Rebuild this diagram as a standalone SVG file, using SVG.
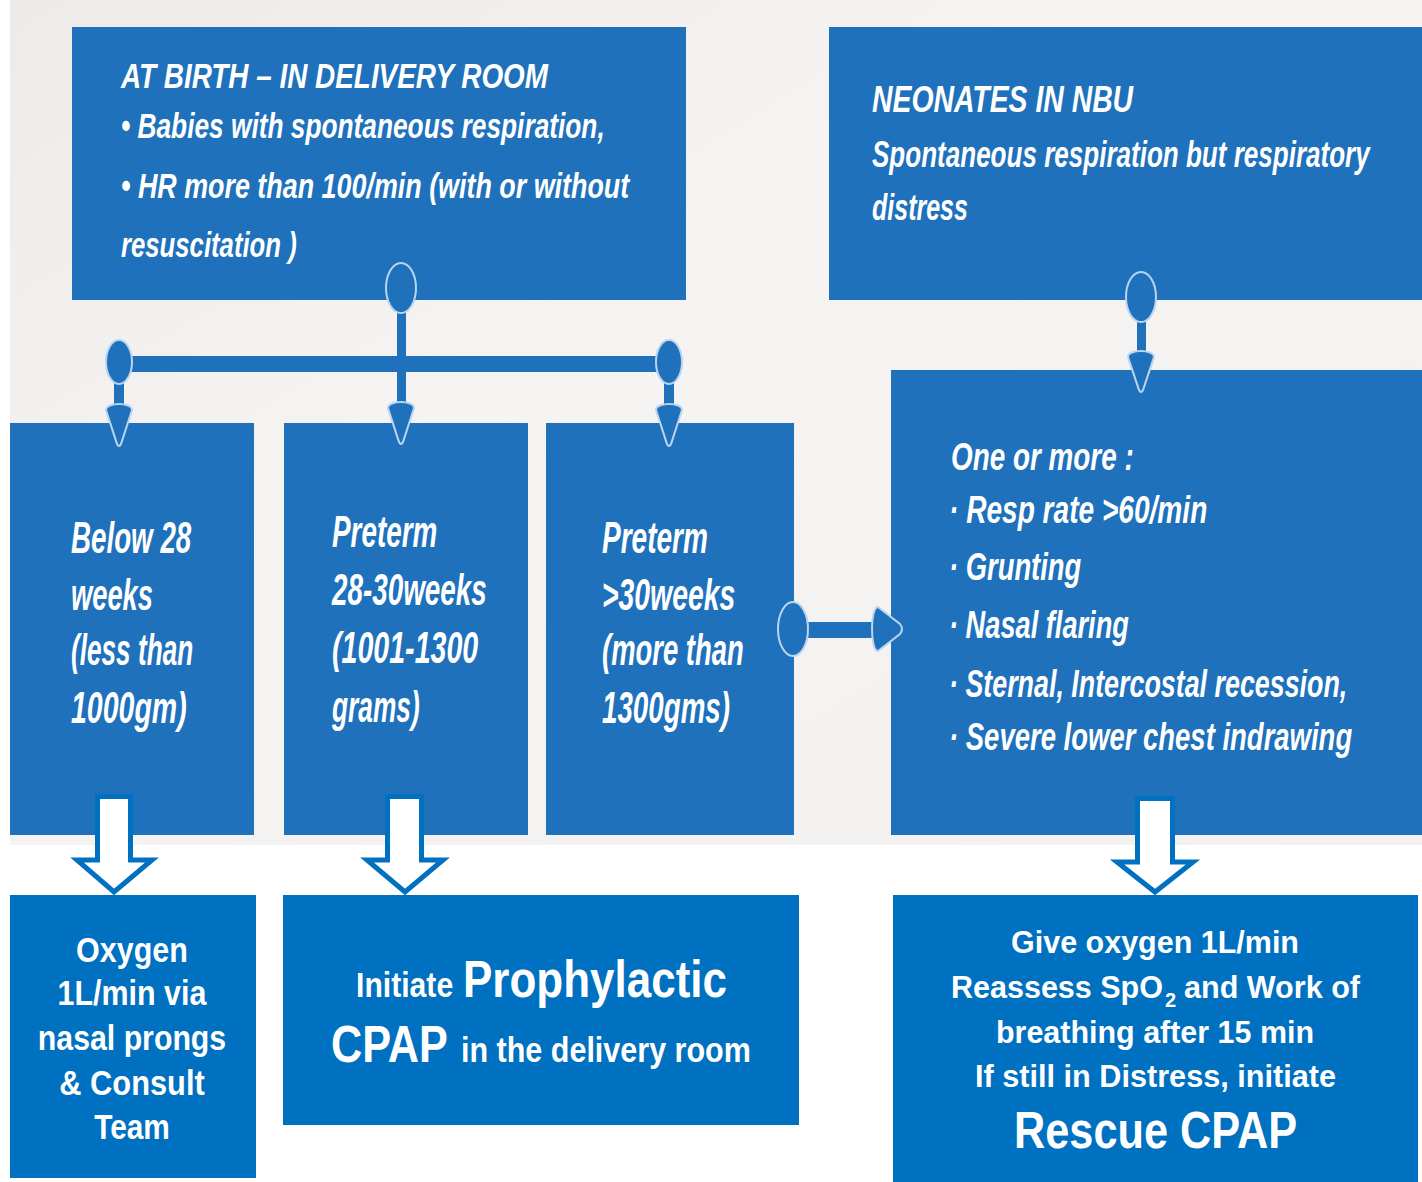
<svg xmlns="http://www.w3.org/2000/svg" width="1422" height="1182" viewBox="0 0 1422 1182">
<defs>
<linearGradient id="bg" x1="0" y1="0" x2="1" y2="1">
<stop offset="0" stop-color="#ecebe9"/>
<stop offset="0.4" stop-color="#f6f4f2"/>
<stop offset="1" stop-color="#f3f1ef"/>
</linearGradient>
<style>
.pbox{fill:#1f71bb}
.sbox{fill:#0070c0}
.pt{font-family:"Liberation Sans",Arial,sans-serif;font-style:italic;font-weight:bold;fill:#ffffff}
.bt{font-family:"Liberation Sans",Arial,sans-serif;font-weight:bold;fill:#ffffff}
.ct{font-family:"Liberation Sans",Arial,sans-serif;font-weight:bold;fill:#ffffff}
.conn{fill:#1f71bb}
.blob{fill:#1f71bb;stroke:#b9d5ef;stroke-width:2}
.barrow{fill:#ffffff;stroke:#0070c0;stroke-width:5;stroke-linejoin:miter}
</style>
</defs>
<rect x="0" y="0" width="1422" height="1182" fill="#ffffff"/>
<rect x="10" y="0" width="1412" height="845" fill="url(#bg)"/>

<g id="node-at-birth">
<rect class="pbox" x="72" y="27" width="614" height="273"/>
<text class="pt" transform="translate(121 88) scale(0.7 1)" font-size="36" textLength="610" lengthAdjust="spacingAndGlyphs">AT BIRTH – IN DELIVERY ROOM</text>
<text class="pt" transform="translate(121 138) scale(0.7 1)" font-size="36" textLength="691" lengthAdjust="spacingAndGlyphs">• Babies with spontaneous respiration,</text>
<text class="pt" transform="translate(121 198) scale(0.7 1)" font-size="36" textLength="726" lengthAdjust="spacingAndGlyphs">• HR more than 100/min (with or without</text>
<text class="pt" transform="translate(121 257) scale(0.7 1)" font-size="36" textLength="251" lengthAdjust="spacingAndGlyphs">resuscitation )</text>
</g>

<g id="node-nbu">
<rect class="pbox" x="829" y="27" width="593" height="273"/>
<text class="pt" transform="translate(872 112) scale(0.7 1)" font-size="37" textLength="373" lengthAdjust="spacingAndGlyphs">NEONATES IN NBU</text>
<text class="pt" transform="translate(872 167) scale(0.7 1)" font-size="37" textLength="711" lengthAdjust="spacingAndGlyphs">Spontaneous respiration but respiratory</text>
<text class="pt" transform="translate(872 220) scale(0.7 1)" font-size="37" textLength="137" lengthAdjust="spacingAndGlyphs">distress</text>
</g>

<g id="node-below28">
<rect class="pbox" x="10" y="423" width="244" height="412"/>
<text class="pt" transform="translate(71 553) scale(0.65 1)" font-size="44" textLength="185" lengthAdjust="spacingAndGlyphs">Below 28</text>
<text class="pt" transform="translate(71 610) scale(0.65 1)" font-size="44" textLength="126" lengthAdjust="spacingAndGlyphs">weeks</text>
<text class="pt" transform="translate(71 665) scale(0.65 1)" font-size="44" textLength="188" lengthAdjust="spacingAndGlyphs">(less than</text>
<text class="pt" transform="translate(71 723) scale(0.65 1)" font-size="44" textLength="178" lengthAdjust="spacingAndGlyphs">1000gm)</text>
</g>

<g id="node-28-30">
<rect class="pbox" x="284" y="423" width="244" height="412"/>
<text class="pt" transform="translate(332 547) scale(0.65 1)" font-size="44" textLength="162" lengthAdjust="spacingAndGlyphs">Preterm</text>
<text class="pt" transform="translate(332 605) scale(0.65 1)" font-size="44" textLength="238" lengthAdjust="spacingAndGlyphs">28-30weeks</text>
<text class="pt" transform="translate(332 663) scale(0.65 1)" font-size="44" textLength="225" lengthAdjust="spacingAndGlyphs">(1001-1300</text>
<text class="pt" transform="translate(332 722) scale(0.65 1)" font-size="44" textLength="135" lengthAdjust="spacingAndGlyphs">grams)</text>
</g>

<g id="node-over30">
<rect class="pbox" x="546" y="423" width="248" height="412"/>
<text class="pt" transform="translate(602 553) scale(0.65 1)" font-size="44" textLength="163" lengthAdjust="spacingAndGlyphs">Preterm</text>
<text class="pt" transform="translate(602 610) scale(0.65 1)" font-size="44" textLength="205" lengthAdjust="spacingAndGlyphs">&gt;30weeks</text>
<text class="pt" transform="translate(602 665) scale(0.65 1)" font-size="44" textLength="218" lengthAdjust="spacingAndGlyphs">(more than</text>
<text class="pt" transform="translate(602 723) scale(0.65 1)" font-size="44" textLength="197" lengthAdjust="spacingAndGlyphs">1300gms)</text>
</g>

<g id="node-signs">
<rect class="pbox" x="891" y="370" width="531" height="465"/>
<text class="pt" transform="translate(951 470) scale(0.7 1)" font-size="38" textLength="261" lengthAdjust="spacingAndGlyphs">One or more :</text>
<text class="pt" transform="translate(949 523) scale(0.7 1)" font-size="38" textLength="369" lengthAdjust="spacingAndGlyphs">· Resp rate &gt;60/min</text>
<text class="pt" transform="translate(949 580) scale(0.7 1)" font-size="38" textLength="189" lengthAdjust="spacingAndGlyphs">· Grunting</text>
<text class="pt" transform="translate(949 638) scale(0.7 1)" font-size="38" textLength="257" lengthAdjust="spacingAndGlyphs">· Nasal flaring</text>
<text class="pt" transform="translate(949 697) scale(0.7 1)" font-size="38" textLength="569" lengthAdjust="spacingAndGlyphs">· Sternal, Intercostal recession,</text>
<text class="pt" transform="translate(949 750) scale(0.7 1)" font-size="38" textLength="576" lengthAdjust="spacingAndGlyphs">· Severe lower chest indrawing</text>
</g>

<g id="node-oxygen">
<rect class="sbox" x="10" y="895" width="246" height="283"/>
<text class="bt" transform="translate(132 962) scale(0.86 1)" font-size="35" text-anchor="middle" textLength="130" lengthAdjust="spacingAndGlyphs">Oxygen</text>
<text class="bt" transform="translate(132 1005) scale(0.86 1)" font-size="35" text-anchor="middle" textLength="173" lengthAdjust="spacingAndGlyphs">1L/min via</text>
<text class="bt" transform="translate(132 1050) scale(0.86 1)" font-size="35" text-anchor="middle" textLength="219" lengthAdjust="spacingAndGlyphs">nasal prongs</text>
<text class="bt" transform="translate(132 1095) scale(0.86 1)" font-size="35" text-anchor="middle" textLength="169" lengthAdjust="spacingAndGlyphs">&amp; Consult</text>
<text class="bt" transform="translate(132 1139) scale(0.86 1)" font-size="35" text-anchor="middle" textLength="88" lengthAdjust="spacingAndGlyphs">Team</text>
</g>

<g id="node-prophylactic">
<rect class="sbox" x="283" y="895" width="516" height="230"/>
<text class="bt" transform="translate(356 997) scale(0.86 1)" font-size="35" textLength="113" lengthAdjust="spacingAndGlyphs">Initiate</text>
<text class="bt" transform="translate(463 997) scale(0.86 1)" font-size="51" textLength="307" lengthAdjust="spacingAndGlyphs">Prophylactic</text>
<text class="bt" transform="translate(331 1062) scale(0.86 1)" font-size="51" textLength="136" lengthAdjust="spacingAndGlyphs">CPAP</text>
<text class="bt" transform="translate(461 1062) scale(0.86 1)" font-size="35" textLength="337" lengthAdjust="spacingAndGlyphs">in the delivery room</text>
</g>

<g id="node-rescue">
<rect class="sbox" x="893" y="895" width="525" height="287"/>
<text class="ct" x="1011" y="953" font-size="31" textLength="288" lengthAdjust="spacingAndGlyphs">Give oxygen 1L/min</text>
<text class="ct" x="951" y="998" font-size="31" textLength="212" lengthAdjust="spacingAndGlyphs">Reassess SpO</text>
<text class="ct" x="1165" y="1007" font-size="20">2</text>
<text class="ct" x="1184" y="998" font-size="31" textLength="176" lengthAdjust="spacingAndGlyphs">and Work of</text>
<text class="ct" x="996" y="1043" font-size="31" textLength="318" lengthAdjust="spacingAndGlyphs">breathing after 15 min</text>
<text class="ct" x="975" y="1087" font-size="31" textLength="361" lengthAdjust="spacingAndGlyphs">If still in Distress, initiate</text>
<text class="ct" x="1014" y="1148" font-size="52" textLength="283" lengthAdjust="spacingAndGlyphs">Rescue CPAP</text>
</g>

<g id="connectors">
<rect class="conn" x="397" y="300" width="9" height="112"/>
<ellipse class="blob" cx="401" cy="288" rx="15" ry="25"/>
<rect class="conn" x="119" y="356" width="550" height="16"/>
<rect class="conn" x="114" y="362" width="10" height="50"/>
<rect class="conn" x="664" y="362" width="10" height="50"/>
<ellipse class="blob" cx="119" cy="362" rx="13" ry="22"/>
<ellipse class="blob" cx="669" cy="362" rx="13" ry="22"/>
<path class="blob" d="M106,410 C106,402 132,402 132,410 L121,444 Q119,448 117,444 Z"/>
<path class="blob" d="M388,408 C388,400 414,400 414,408 L403,442 Q401,446 399,442 Z"/>
<path class="blob" d="M656,410 C656,402 682,402 682,410 L671,444 Q669,448 667,444 Z"/>
<rect class="conn" x="1137" y="315" width="9" height="45"/>
<ellipse class="blob" cx="1141" cy="297" rx="15" ry="25"/>
<path class="blob" d="M1128,357 C1128,349 1154,349 1154,357 L1143,390 Q1141,394 1139,390 Z"/>
<rect class="conn" x="800" y="622" width="82" height="16"/>
<ellipse class="blob" cx="793" cy="629" rx="15" ry="27"/>
<path class="blob" d="M878,607 C870,607 870,651 878,651 L900,634 Q904,629 900,624 Z"/>
<path class="barrow" d="M97.5,796.5 L130.5,796.5 L130.5,860 L152,860 L114,892 L77,860 L97.5,860 Z"/>
<path class="barrow" d="M387.5,796.5 L421.5,796.5 L421.5,860 L443,860 L405,892 L367,860 L387.5,860 Z"/>
<path class="barrow" d="M1137.5,798.5 L1172.5,798.5 L1172.5,862 L1193,862 L1155,892 L1117,862 L1137.5,862 Z"/>
</g>
</svg>
